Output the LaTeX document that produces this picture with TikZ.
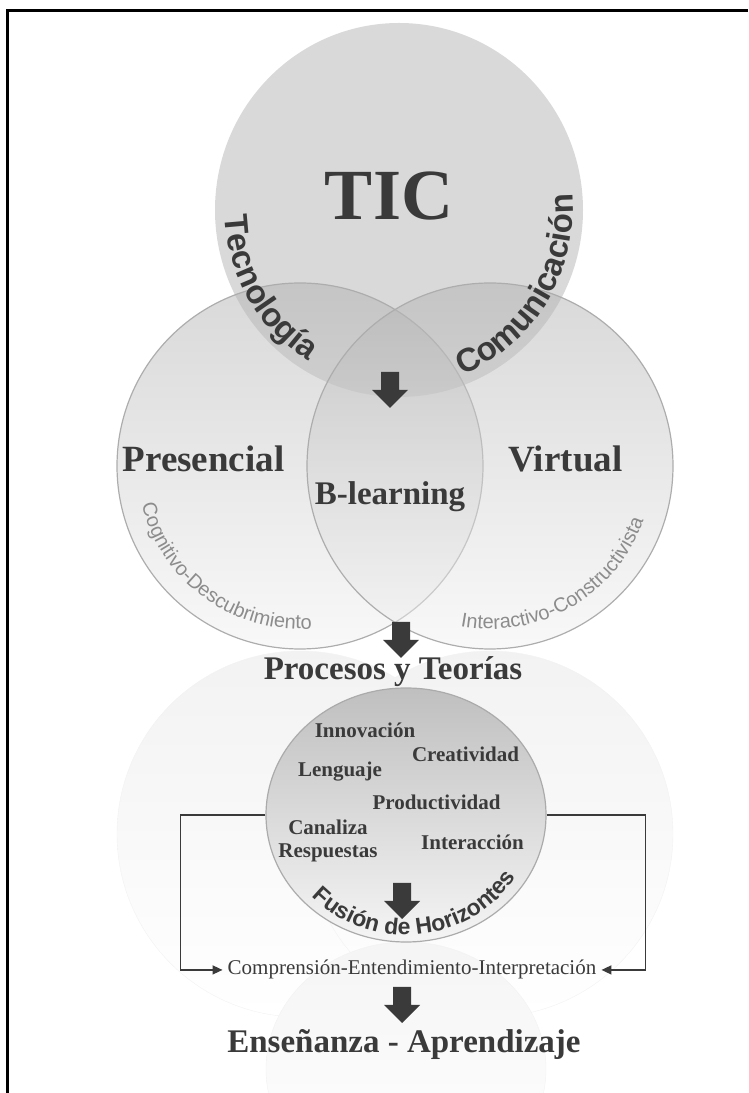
\documentclass[tikz,border=0pt]{standalone}
\usepackage{fontspec}
\setmainfont{Liberation Serif}
\newfontfamily\arialf{Liberation Sans}
\usetikzlibrary{arrows.meta, shapes.geometric, decorations.text}
\definecolor{ink}{HTML}{3A3A3A}
\definecolor{soft}{HTML}{8C8C8C}

\begin{document}
\begin{tikzpicture}[x=1pt, y=1pt,
		venn/.style={circle, minimum size=366pt, inner sep=0pt, draw=black!32, line width=1.2pt,
		top color=black!30, bottom color=black!5, fill opacity=0.5},
		echo/.style={circle, minimum size=366pt, inner sep=0pt, draw=black!5,
		top color=black!5, bottom color=white},
		headline/.style={font=\bfseries\fontsize{33}{33}\selectfont, text=ink, anchor=base, inner sep=0pt},
		word/.style={font=\bfseries\fontsize{21}{21}\selectfont, text=ink, anchor=base, inner sep=0pt},
		link/.style={draw=ink, line width=1.5pt},
		>={Triangle[length=10pt, width=9pt]},
		blockarrow/.pic={\fill[ink] (-9,0) -- (9,0) -- (9,-18) -- (18,-18) -- (0,-36) -- (-18,-18) -- (-9,-18) -- cycle;}
		]
		\useasboundingbox (0,0) rectangle (748,1093);
		\draw[line width=3pt] (7,0) -- (7,1082) -- (748,1082);

		\node[echo] (E1) at (300,259) {};
		\node[echo] (E2) at (490,259) {};
		\node[echo, ellipse, minimum width=280pt, minimum height=254pt, top color=black!4] (E3) at (406,24) {};

		\node[ellipse, minimum width=368pt, minimum height=374pt, fill=black!15] (tic) at (399,883) {};
		\node[venn] (pres) at (300,627) {};
		\node[venn] (virt) at (490,627) {};
		\node[ellipse, minimum width=280pt, minimum height=254pt, draw=black!33, line width=1.2pt,
		top color=black!25, bottom color=black!4] (fusion) at (406,278) {};

		\node[headline, font=\bfseries\fontsize{72}{72}\selectfont] (T) at (389,873) {TIC};
		\node[headline, font=\bfseries\fontsize{37}{37}\selectfont] (P) at (203.5,621) {Presencial};
		\node[headline, font=\bfseries\fontsize{37}{37}\selectfont] (V) at (565.5,621) {Virtual};
		\node[headline] (B) at (390,588) {B-learning};
		\node[headline] (PT) at (393,413) {Procesos y Teorías};
		\node[headline] (EA) at (404,40) {Enseñanza - Aprendizaje};

		\node[word] (W1) at (365,355) {Innovación};
		\node[word] (W2) at (465.5,331) {Creatividad};
		\node[word] (W3) at (340,316) {Lenguaje};
		\node[word] (W4) at (436.5,283) {Productividad};
		\node[word] (W5) at (328,258) {Canaliza};
		\node[word] (W6) at (328,235) {Respuestas};
		\node[word] (W7) at (472.5,243) {Interacción};

		\node[font=\fontsize{21}{21}\selectfont, text=ink, anchor=base, inner xsep=5pt] (comp) at (412,118)
		{Comprensión-Entendimiento-Interpretación};

		\path[decorate, decoration={text along path, text align=center,
		text={|\arialf\bfseries\fontsize{33}{33}\selectfont\color{ink}|Tecnología}}]
		(tic.center) ++(140:174 and 177) arc[start angle=140, end angle=281, x radius=174, y radius=177];
		\path[decorate, decoration={text along path, text align=center,
		text={|\arialf\bfseries\fontsize{33}{33}\selectfont\color{ink}|Comunicación}}]
		(tic.center) ++(258:174 and 177) arc[start angle=258, end angle=398, x radius=174, y radius=177];
		\path[decorate, decoration={text along path, text align=center,
		text={|\arialf\fontsize{20}{20}\selectfont\color{soft}|Cognitivo-Descubrimiento}}]
		(pres.center) ++(150:163) arc[start angle=150, end angle=318, radius=163];
		\path[decorate, decoration={text along path, text align=center,
		text={|\arialf\fontsize{20}{20}\selectfont\color{soft}|Interactivo-Constructivista}}]
		(virt.center) ++(216:163) arc[start angle=216, end angle=384, radius=163];
		\path[decorate, decoration={text along path, text align=center,
		text={|\arialf\bfseries\fontsize{23}{23}\selectfont\color{ink}|Fusión de Horizontes}}]
		(fusion.center) ++(196:128 and 120) arc[start angle=196, end angle=356, x radius=128, y radius=120];

		\pic (A1) at (390,721) {blockarrow};
		\pic (A2) at (401,471) {blockarrow};
		\pic (A3) at (402,210) {blockarrow};
		\pic (A4) at (402,106) {blockarrow};

		\draw[link, ->] (fusion.west) -- ++(-85,0) |- (comp.west);
		\draw[link, ->] (fusion.east) -- ++(99,0) |- (comp.east);

	\end{tikzpicture}
\end{document}
